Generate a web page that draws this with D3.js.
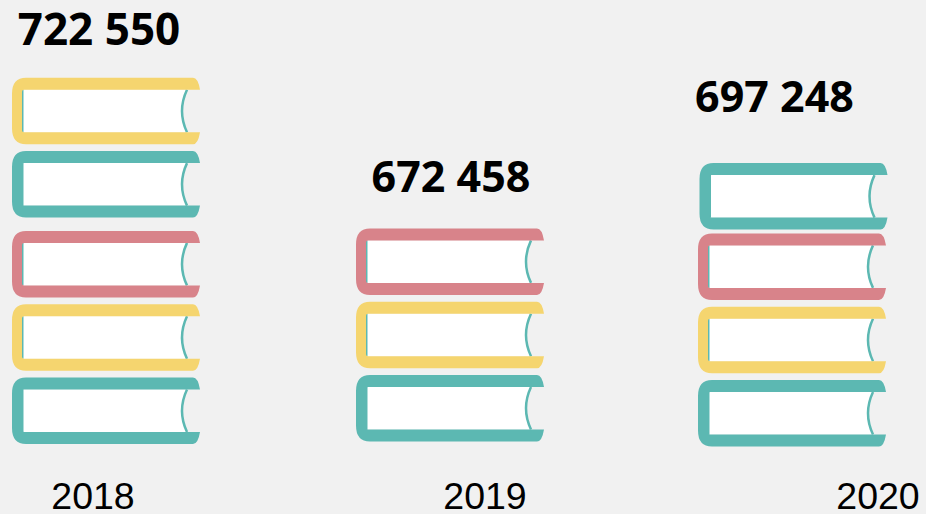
<!DOCTYPE html>
<html><head><meta charset="utf-8">
<script src="https://cdnjs.cloudflare.com/ajax/libs/d3/7.8.5/d3.min.js"></script>
<style>html,body{margin:0;padding:0;background:#f1f1f1;overflow:hidden}svg{display:block}</style>
</head><body><svg id="c" width="926" height="514"></svg>
<script>
// Data
const years = ["2018", "2019", "2020"];
const values = [722550, 672458, 697248];
const valueLabels = ["722 550", "672 458", "697 248"];
// Book colour names, bottom to top
const stack2018 = ["teal", "yellow", "pink", "teal", "yellow"];
const stack2019 = ["teal", "yellow", "pink"];
const stack2020 = ["teal", "yellow", "pink", "teal"];
const stacks = [stack2018, stack2019, stack2020];

// Layout, kept apart from the data
const W = 926, H = 514, bookW = 188, bookH = 66.5;
const colors = d3.scaleOrdinal(["teal", "yellow", "pink"], ["#5cb8b2", "#f5d56f", "#d8838a"]);
const bookX = d3.scaleOrdinal(years, [12, 356, 698]);
const labelX = d3.scaleOrdinal(years, [93, 485, 878]);
const valueX = d3.scaleOrdinal(years, [99, 451, 774.5]);
const valueY = d3.scaleOrdinal(years, [45, 192, 112]);
const valueSize = d3.scaleOrdinal(years, [44, 43, 43]);
const baseY = d3.scaleOrdinal(years, [377.5, 375, 380]);
const slotY = d3.scaleLinear([0, 1], [0, -73.3]);
// Hand-stacked books sit slightly out of line
const nudgeY = {"2018": [0, 0, 0, -6.5, -6.5], "2019": [0, 0, 0], "2020": [0, 0, 0, 3]};
const nudgeX = {"2018": [0, 0, 0, 0, 0], "2019": [0, 0, 0], "2020": [0, 0, 0, 1.5]};

function coverPath(w, h) {
  const p = d3.path(), t = 12, l = 10, b = h - t;
  p.moveTo(14, 0); p.lineTo(w - 7, 0);
  p.quadraticCurveTo(w - 2, 0, w, t);
  p.lineTo(l + 2, t); p.quadraticCurveTo(l, t, l, t + 2);
  p.lineTo(l, b - 2); p.quadraticCurveTo(l, b, l + 2, b);
  p.lineTo(w, b);
  p.quadraticCurveTo(w - 2, h, w - 7, h);
  p.lineTo(14, h); p.quadraticCurveTo(0, h, 0, h - 16);
  p.lineTo(0, 16); p.quadraticCurveTo(0, 0, 14, 0);
  p.closePath();
  return p.toString();
}
function pagePath(w, h) {
  const p = d3.path(), t = 12, b = h - t;
  p.moveTo(10.5, t); p.lineTo(w - 13, t);
  p.quadraticCurveTo(w - 23, h / 2, w - 13, b);
  p.lineTo(10.5, b); p.closePath();
  return p.toString();
}
function edgePath(w, h) {
  const p = d3.path(), t = 12, b = h - t;
  p.moveTo(w - 13, t);
  p.quadraticCurveTo(w - 23, h / 2, w - 13, b);
  return p.toString();
}

const svg = d3.select("#c").attr("viewBox", [0, 0, W, H]);
svg.append("rect").attr("width", W).attr("height", H).attr("fill", "#f1f1f1");

const groups = svg.selectAll("g.year").data(years).join("g").attr("class", "year");

groups.each(function (yr, i) {
  const g = d3.select(this);
  const books = g.selectAll("g.book").data(stacks[i]).join("g").attr("class", "book")
    .attr("transform", (c, k) =>
      `translate(${bookX(yr) + nudgeX[yr][k]},${baseY(yr) + slotY(k) + nudgeY[yr][k]})`);
  books.append("path").attr("d", pagePath(bookW, bookH)).attr("fill", "#ffffff");
  books.append("path").attr("d", `M10.5,12V${bookH - 12}`).attr("stroke", "#5cb8b2").attr("stroke-width", 2).attr("fill", "none");
  books.append("path").attr("d", edgePath(bookW, bookH)).attr("stroke", "#5cb8b2").attr("stroke-width", 2.5).attr("fill", "none");
  books.append("path").attr("d", coverPath(bookW, bookH)).attr("fill", c => colors(c));
});

groups.append("text").text((d, i) => valueLabels[i])
  .attr("x", d => valueX(d)).attr("y", d => valueY(d))
  .attr("text-anchor", "middle").attr("fill", "#000")
  .style("font-family", "'Noto Sans','Open Sans',sans-serif")
  .style("font-weight", 700).style("font-size", d => valueSize(d) + "px");

groups.append("text").text(d => d)
  .attr("x", d => labelX(d)).attr("y", 509)
  .attr("text-anchor", "middle").attr("fill", "#000")
  .style("font-family", "'Liberation Sans',Arial,sans-serif")
  .style("font-size", "37.5px");
</script></body></html>
